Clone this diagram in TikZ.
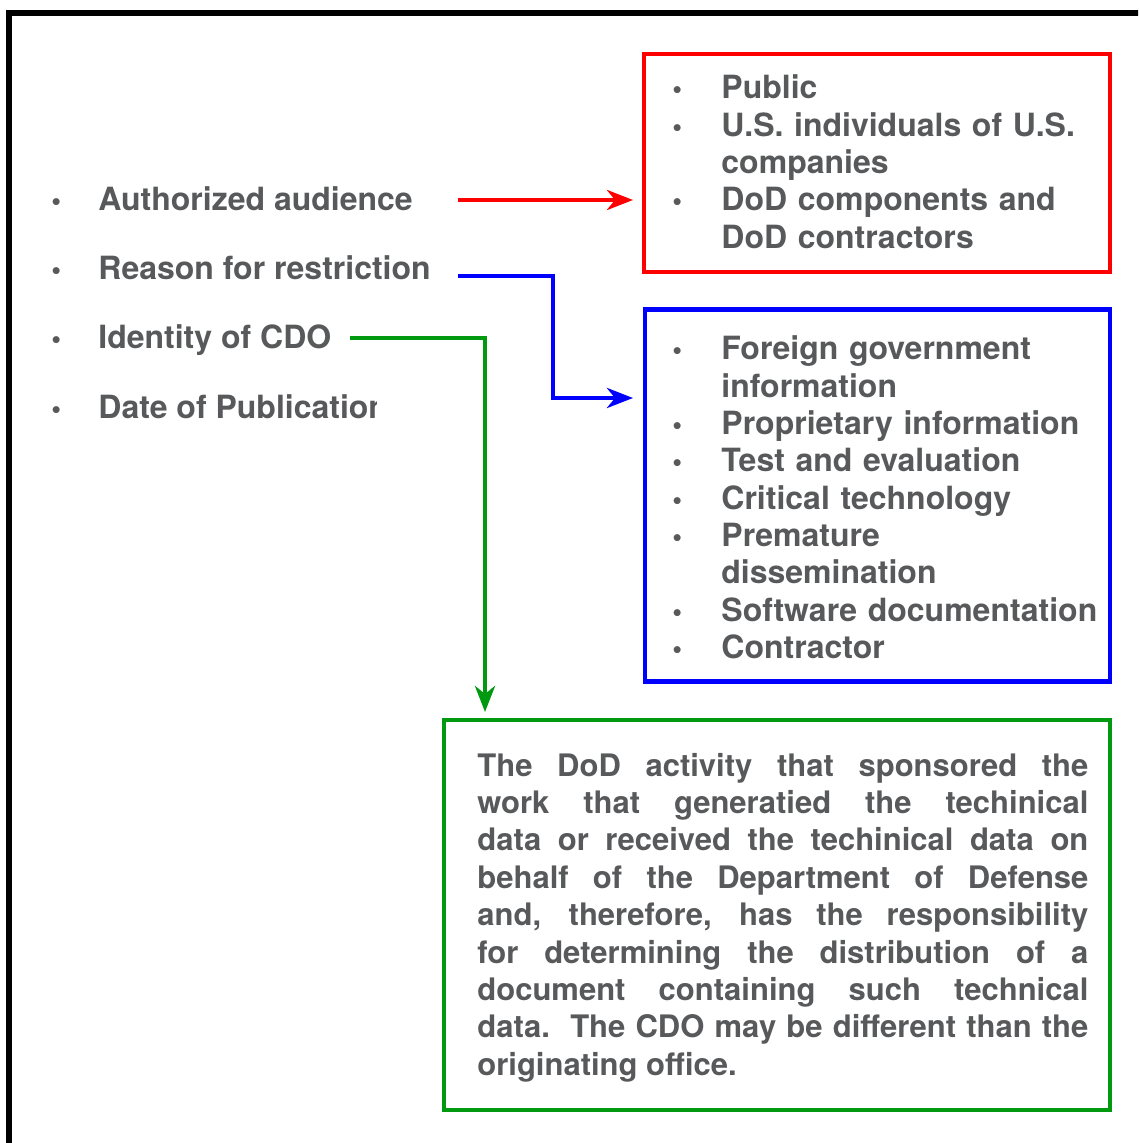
\documentclass[tikz,border=0pt]{standalone}
\usepackage{fontspec}
\setmainfont{TeX Gyre Heros}
\usepackage{tikz}
\usetikzlibrary{arrows.meta}

\definecolor{txtgray}{HTML}{58595B}
\definecolor{cdogreen}{HTML}{00990F}
\newcommand{\bul}[1][21pt]{\makebox[#1][l]{\kern-2.5pt{\fontsize{14}{14}\selectfont\textbullet}}}

\begin{document}
\begin{tikzpicture}[x=0.5pt,y=-0.5pt,>={Stealth[length=13pt,width=10pt,inset=4pt]},
  line width=2.4pt,
  txt/.style={anchor=base west,inner sep=0pt,text=txtgray,
    font=\fontsize{16}{18.65}\selectfont\bfseries},
  lst/.style={txt,text width=215pt,align=left}]
  \useasboundingbox (0,0) rectangle (1138,1143);
  \begin{scope}
    \clip (0,0) rectangle (1138,1143);
    \draw[black,line width=2.6pt] (9,13) rectangle (1160,1160);
  \end{scope}

  % left column
  \node[txt] (audience) at (54,211) {\bul Authorized audience};
  \node[txt] (reason) at (54,280) {\bul Reason for restriction};
  \node[txt] (cdo) at (54,349) {\bul Identity of CDO};
  \begin{scope}
    \clip (0,380) rectangle (376,440);
    \node[txt] (date) at (54,418.5) {\bul Date of Publication};
  \end{scope}

  % boxes
  \draw[red,line width=2.3pt] (644,54) rectangle (1110,272);
  \node[lst] (audlist) at (675,99) {\bul[22pt]Public\\
    \bul[22pt]U.S. individuals of U.S.\\
    \hspace*{22pt}companies\\
    \bul[22pt]DoD components and\\
    \hspace*{22pt}DoD contractors};

  \draw[blue,line width=2.3pt] (645,309.5) rectangle (1110,681.5);
  \node[lst] (reasonlist) at (675,360) {\bul[22pt]Foreign government\\
    \hspace*{22pt}information\\
    \bul[22pt]Proprietary information\\
    \bul[22pt]Test and evaluation\\
    \bul[22pt]Critical technology\\
    \bul[22pt]Premature\\
    \hspace*{22pt}dissemination\\
    \bul[22pt]Software documentation\\
    \bul[22pt]Contractor};

  \draw[cdogreen,line width=2.3pt] (444,720) rectangle (1110,1110);
  \node[txt,font=\fontsize{15.5}{18.7}\selectfont\bfseries,text width=305.5pt,
    align=justify] (cdotext) at (475,776)
    {\hyphenpenalty=10000 The DoD activity that sponsored the\linebreak
    work that generatied the techinical\linebreak
    data or received the techinical data on\linebreak
    behalf of the Department of Defense\linebreak
    and, therefore, has the responsibility\linebreak
    for determining the distribution of a\linebreak
    document containing such technical\linebreak
    data.\ \ The CDO may be different than the\linebreak
    originating office.};

  % connectors
  \coordinate (audOut) at (458,200);
  \coordinate (audIn) at (633,200);
  \coordinate (reasonOut) at (458,276);
  \coordinate (reasonIn) at (633,398);
  \coordinate (cdoOut) at (350,338);
  \coordinate (cdoIn) at (485,712);

  \draw[->,red] (audOut) -- (audIn);
  \draw[->,blue] (reasonOut) -- (553,276) |- (reasonIn);
  \draw[->,cdogreen] (cdoOut) -| (cdoIn);
\end{tikzpicture}
\end{document}
